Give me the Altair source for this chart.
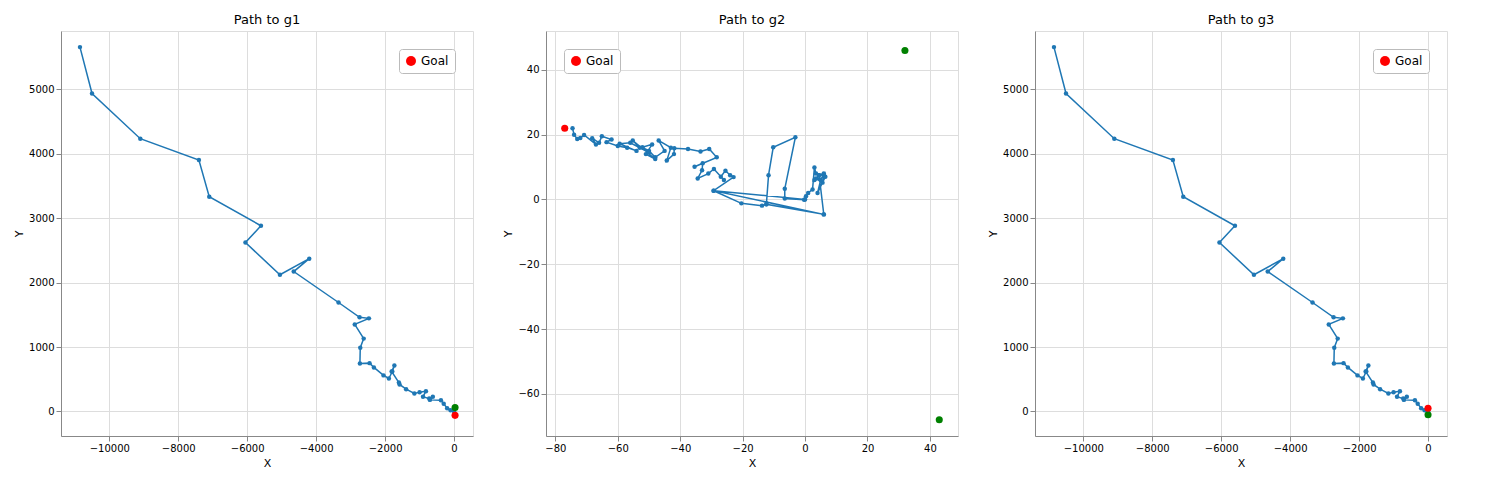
import pandas as pd
import altair as alt

# path shared by g1 and g3 panels
path_a_x = [-10850, -10500, -9100, -7400, -7100, -5600, -6050, -5050, -4200, -4650,
            -3350, -2740, -2470, -2880, -2620, -2720, -2730, -2450, -2325, -2045,
            -1890, -1790, -1730, -1810, -1600, -1580, -1390, -1150, -1000, -815,
            -900, -720, -615, -700, -380, -300, -200, -100, 0]
path_a_y = [5650, 4930, 4230, 3900, 3330, 2880, 2620, 2120, 2370, 2170,
            1690, 1460, 1444, 1350, 1130, 990, 745, 750, 683, 560,
            512, 620, 714, 620, 450, 420, 346, 280, 300, 315,
            230, 200, 230, 180, 175, 120, 50, 20, 0]

# path for g2
path_b_x = [-0.3, -6.5, -6.5, -3.1, -10.2, -11.7, -12.4, 6, -12.4, -13.8, -20.4, -29.3,
            0, 0.3, 1, 2.4, 3, 3.5, 6, 5.6, 3.5, 6, 5, 4, 6.5, 3, 4.5, 6, -29.3,
            -22.9, -24, -25.5, -27, -26, -29.2, -31, -34.4, -33, -32.8, -35.4, -28.3,
            -30.7, -33.5, -37.5, -41.9, -42, -44.3, -43, -46.9, -45, -48, -50, -52.1,
            -49, -51, -48, -55.2, -53, -50, -56, -59.4, -54, -57, -60, -63.6, -62,
            -65.1, -66, -68.2, -67, -70.8, -72, -73, -74, -74.5]
path_b_y = [-0.1, 0.3, 3.3, 19.2, 16.1, 7.5, -1.5, -4.6, -1.5, -1.9, -1.2, 2.7,
            0, 1, 2, 3.1, 9.9, 8, 7.7, 5.2, 6.5, 8, 6, 2, 7, 6, 7.5, -4.6, 2.7,
            6.9, 7.5, 8.9, 7, 6, 9.4, 8, 6.5, 9, 11.2, 10.1, 13,
            15.6, 14.8, 15.6, 15.8, 14, 12, 16, 18.2, 15, 13, 15, 16.1,
            17, 14, 12.5, 18.2, 16, 14.5, 17.5, 17.2, 15, 16, 16.5, 17.7, 18.5,
            19.5, 17.5, 18.9, 17, 19.9, 19, 18.7, 20, 22]

panels = [
    dict(title="Path to g1", px=path_a_x, py=path_a_y, goal=(30, -60), green=[(30, 60)],
         xd=[-11400, 550], yd=[-380, 5900], xt=list(range(-10000, 1, 2000)),
         yt=list(range(0, 5001, 1000)), legend="top-right"),
    dict(title="Path to g2", px=path_b_x, py=path_b_y, goal=(-77, 22),
         green=[(32, 46), (43, -68)], xd=[-83, 49], yd=[-73, 52],
         xt=list(range(-80, 41, 20)), yt=list(range(-60, 41, 20)), legend="top-left"),
    dict(title="Path to g3", px=path_a_x, py=path_a_y, goal=(0, 50), green=[(0, -50)],
         xd=[-11400, 550], yd=[-380, 5900], xt=list(range(-10000, 1, 2000)),
         yt=list(range(0, 5001, 1000)), legend="top-right"),
]


def panel(p):
    df = pd.DataFrame({"x": p["px"], "y": p["py"], "i": range(len(p["px"]))})
    xs = alt.Scale(domain=p["xd"], nice=False, zero=False)
    ys = alt.Scale(domain=p["yd"], nice=False, zero=False)
    xa = alt.Axis(values=p["xt"], title="X", grid=True, format="d", titleFontWeight="normal")
    ya = alt.Axis(values=p["yt"], title="Y", grid=True, format="d", titleFontWeight="normal")
    base = alt.Chart(df).encode(x=alt.X("x:Q", scale=xs, axis=xa),
                                y=alt.Y("y:Q", scale=ys, axis=ya), order="i:Q")
    line = base.mark_line(color="#1f77b4", strokeWidth=1.5, clip=True)
    pts = base.mark_circle(color="#1f77b4", size=20, opacity=1)
    gdf = pd.DataFrame({"x": [g[0] for g in p["green"]], "y": [g[1] for g in p["green"]]})
    green = alt.Chart(gdf).mark_circle(color="green", size=50, opacity=1).encode(
        x=alt.X("x:Q", scale=xs), y=alt.Y("y:Q", scale=ys))
    rdf = pd.DataFrame({"x": [p["goal"][0]], "y": [p["goal"][1]], "k": ["Goal"]})
    goal = alt.Chart(rdf).mark_circle(size=50, opacity=1).encode(
        x=alt.X("x:Q", scale=xs), y=alt.Y("y:Q", scale=ys),
        color=alt.Color("k:N", scale=alt.Scale(domain=["Goal"], range=["red"]),
                        legend=alt.Legend(title=None, orient=p["legend"], labelFontSize=12,
                                          strokeColor="#bbbbbb", fillColor="white",
                                          padding=6, cornerRadius=3)))
    return (line + pts + green + goal).properties(
        width=412, height=405, title=alt.TitleParams(p["title"], fontSize=13, fontWeight="normal"))


chart = alt.hconcat(*[panel(p) for p in panels], spacing=28).resolve_scale(
    color="independent"
).configure_view(stroke="black", strokeWidth=1).configure_axis(
    gridColor="#b0b0b0", domainColor="black", tickColor="black", labelColor="black",
    titleColor="black", labelFontSize=11, titleFontSize=11, titleFontWeight="normal"
).configure(font="DejaVu Sans")

chart.save("out.html", embed_options={"renderer": "svg", "actions": False})
